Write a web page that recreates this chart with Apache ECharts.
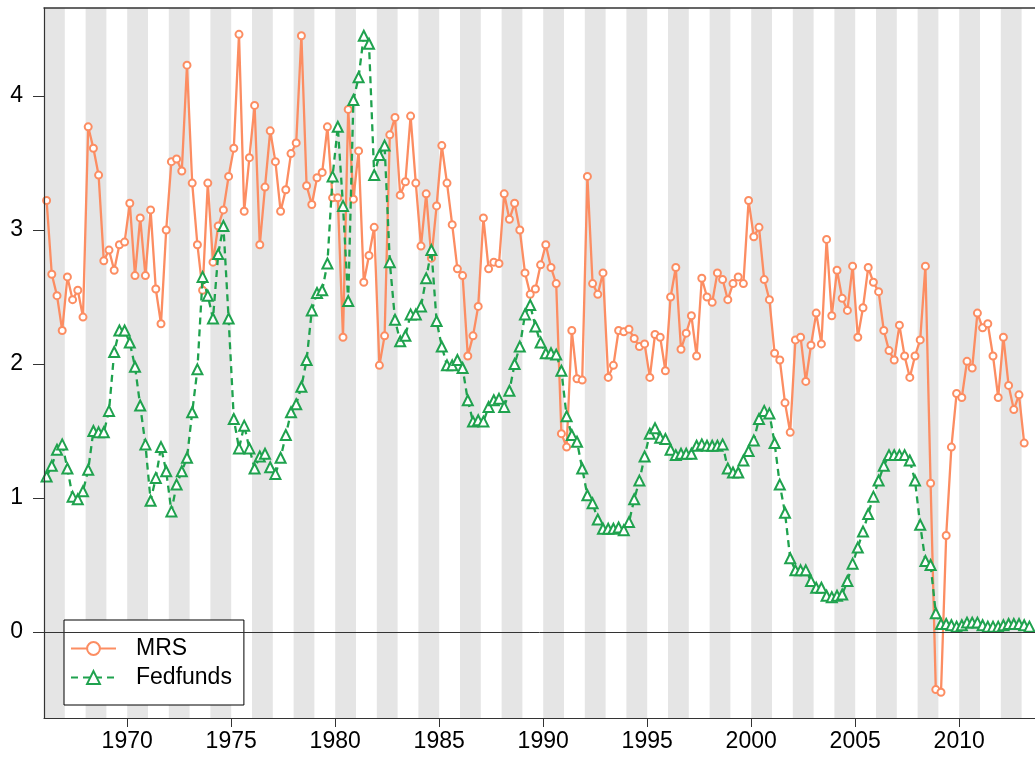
<!DOCTYPE html>
<html>
<head>
<meta charset="utf-8">
<script src="https://cdn.jsdelivr.net/npm/echarts@6/dist/echarts.min.js"></script>
<style>
    html, body { margin: 0; padding: 0; background: #fff; }
    #chartMain { width: 1035px; height: 761px; }
</style>
</head>
<body>
<div id="chartMain"></div>
<script>
    // quarterly series, first value is 1966 Q1
    var startYear = 1966;
    var xTicks = [1970, 1975, 1980, 1985, 1990, 1995, 2000, 2005, 2010];
    var yTicks = [0, 1, 2, 3, 4];

    var mrs = [
        3.22, 2.67, 2.51, 2.25, 2.65, 2.48, 2.55, 2.35, 3.77, 3.61,
        3.41, 2.77, 2.85, 2.70, 2.89, 2.91, 3.20, 2.66, 3.09, 2.66,
        3.15, 2.56, 2.30, 3.00, 3.51, 3.53, 3.44, 4.23, 3.35, 2.89,
        2.55, 3.35, 2.76, 3.03, 3.15, 3.40, 3.61, 4.46, 3.14, 3.54,
        3.93, 2.89, 3.32, 3.74, 3.51, 3.14, 3.30, 3.57, 3.65, 4.45,
        3.33, 3.19, 3.39, 3.43, 3.77, 3.24, 3.24, 2.20, 3.90, 3.23,
        3.59, 2.61, 2.81, 3.02, 1.99, 2.21, 3.71, 3.84, 3.26, 3.36,
        3.85, 3.35, 2.88, 3.27, 2.79, 3.18, 3.63, 3.35, 3.04, 2.71,
        2.66, 2.06, 2.21, 2.43, 3.09, 2.71, 2.76, 2.75, 3.27, 3.08,
        3.20, 3.00, 2.68, 2.52, 2.56, 2.74, 2.89, 2.72, 2.60, 1.48,
        1.38, 2.25, 1.89, 1.88, 3.40, 2.60, 2.52, 2.68, 1.90, 1.99,
        2.25, 2.24, 2.26, 2.19, 2.13, 2.15, 1.90, 2.22, 2.20, 1.95,
        2.50, 2.72, 2.11, 2.23, 2.36, 2.06, 2.64, 2.50, 2.46, 2.68,
        2.63, 2.48, 2.60, 2.65, 2.60, 3.22, 2.95, 3.02, 2.63, 2.48,
        2.08, 2.03, 1.71, 1.49, 2.18, 2.20, 1.87, 2.14, 2.38, 2.15,
        2.93, 2.36, 2.70, 2.49, 2.40, 2.73, 2.20, 2.42, 2.72, 2.61,
        2.54, 2.25, 2.10, 2.03, 2.29, 2.06, 1.90, 2.06, 2.18, 2.73,
        1.11, -0.43, -0.45, 0.72, 1.38, 1.78, 1.75, 2.02, 1.97, 2.38,
        2.27, 2.30, 2.06, 1.75, 2.20, 1.84, 1.66, 1.77, 1.41
    ];

    var fedfunds = [
        1.16, 1.24, 1.36, 1.40, 1.22, 1.01, 0.99, 1.05, 1.21, 1.50,
        1.49, 1.49, 1.65, 2.09, 2.25, 2.25, 2.16, 1.98, 1.69, 1.40,
        0.98, 1.15, 1.38, 1.20, 0.90, 1.10, 1.20, 1.30, 1.64, 1.96,
        2.65, 2.51, 2.34, 2.82, 3.03, 2.34, 1.59, 1.37, 1.54, 1.37,
        1.22, 1.31, 1.33, 1.23, 1.18, 1.30, 1.47, 1.64, 1.70, 1.83,
        2.03, 2.40, 2.53, 2.55, 2.75, 3.40, 3.77, 3.18, 2.47, 3.97,
        4.14, 4.45, 4.39, 3.41, 3.56, 3.63, 2.76, 2.33, 2.17, 2.21,
        2.37, 2.37, 2.43, 2.64, 2.85, 2.32, 2.13, 1.99, 1.99, 2.03,
        1.97, 1.73, 1.57, 1.58, 1.57, 1.68, 1.73, 1.74, 1.68, 1.80,
        2.00, 2.13, 2.37, 2.44, 2.28, 2.16, 2.08, 2.08, 2.07, 1.95,
        1.61, 1.47, 1.42, 1.22, 1.02, 0.96, 0.84, 0.77, 0.77, 0.77,
        0.78, 0.76, 0.82, 0.99, 1.13, 1.31, 1.48, 1.52, 1.45, 1.44,
        1.36, 1.32, 1.33, 1.33, 1.33, 1.39, 1.40, 1.39, 1.39, 1.39,
        1.40, 1.22, 1.19, 1.19, 1.28, 1.35, 1.43, 1.59, 1.65, 1.63,
        1.41, 1.10, 0.89, 0.55, 0.46, 0.46, 0.46, 0.38, 0.33, 0.33,
        0.27, 0.26, 0.27, 0.28, 0.38, 0.51, 0.63, 0.75, 0.88, 1.01,
        1.13, 1.24, 1.32, 1.32, 1.32, 1.32, 1.28, 1.13, 0.80, 0.53,
        0.50, 0.14, 0.06, 0.06, 0.05, 0.04, 0.05, 0.07, 0.07, 0.07,
        0.05, 0.04, 0.04, 0.04, 0.05, 0.06, 0.06, 0.06, 0.05, 0.04
    ];

    function toPoints(vals) {
        return vals.map(function (v, i) {
            return [startYear + (i + 0.5) / 4, v];
        });
    }

    // grey shading on every other year
    var bands = [];
    for (var y = startYear; y <= 2012; y += 2) {
        bands.push([{xAxis: y}, {xAxis: y + 1}]);
    }

    var orange = '#FC8D62';
    var green = '#1FA24E';
    var font = 'Liberation Sans, Arial, sans-serif';
    var xMax = 1966 + 991 / 20.8;   // plot runs off the right edge

    var chart = echarts.init(document.getElementById('chartMain'));
    chart.setOption({
        animation: false,
        grid: {left: 44, top: 8, right: 0, bottom: 43, show: false},
        legend: {
            data: ['MRS', 'Fedfunds'],
            orient: 'vertical',
            left: 64, top: 620,
            padding: [14, 12, 13, 6],
            itemGap: 0,
            itemWidth: 45, itemHeight: 16,
            backgroundColor: '#fff',
            borderColor: '#000', borderWidth: 1,
            textStyle: {fontFamily: font, fontSize: 23, color: '#000', lineHeight: 29, padding: [0, 0, 0, 15]}
        },
        xAxis: [
            {
                type: 'value',
                z: 6,
                min: 1966, max: xMax,
                axisLine: {show: true, onZero: false, lineStyle: {color: '#333', width: 1.2}},
                splitLine: {show: false},
                axisTick: {show: true, customValues: xTicks, length: 9, lineStyle: {color: '#333'}},
                axisLabel: {
                    customValues: xTicks, fontFamily: font, fontSize: 23, color: '#000', margin: 12,
                    formatter: function (v) { return String(v); }
                }
            },
            {
                type: 'value', position: 'top',
                z: 6,
                min: 1966, max: xMax,
                axisLine: {show: true, onZero: false, lineStyle: {color: '#333', width: 1.5}},
                splitLine: {show: false},
                axisTick: {show: false},
                axisLabel: {show: false}
            }
        ],
        yAxis: {
            type: 'value',
            z: 6,
            min: -86 / 134, max: 624 / 134,
            axisLine: {show: true, onZero: false, lineStyle: {color: '#333', width: 1.2}},
            splitLine: {show: false},
            axisTick: {show: true, customValues: yTicks, length: 11, lineStyle: {color: '#333'}},
            axisLabel: {customValues: yTicks, fontFamily: font, fontSize: 23, color: '#000', margin: 21}
        },
        series: [
            {
                name: 'bg',
                type: 'line',
                data: [],
                z: 1,
                silent: true,
                markArea: {
                    silent: true,
                    itemStyle: {color: '#E5E5E5'},
                    data: bands
                },
                markLine: {
                    silent: true,
                    symbol: 'none',
                    label: {show: false},
                    lineStyle: {color: '#333', width: 1, type: 'solid'},
                    data: [{yAxis: 0}]
                }
            },
            {
                name: 'MRS',
                type: 'line',
                z: 3,
                data: toPoints(mrs),
                symbol: 'emptyCircle',
                symbolSize: 7,
                showAllSymbol: true,
                lineStyle: {color: orange, width: 2.3},
                itemStyle: {color: orange, borderWidth: 1.2}
            },
            {
                name: 'Fedfunds',
                type: 'line',
                z: 4,
                data: toPoints(fedfunds),
                symbol: 'emptyTriangle',
                symbolSize: 10,
                showAllSymbol: true,
                lineStyle: {color: green, width: 2.3, type: [7, 5]},
                itemStyle: {color: green, borderWidth: 1.2}
            }
        ]
    });
</script>
</body>
</html>
